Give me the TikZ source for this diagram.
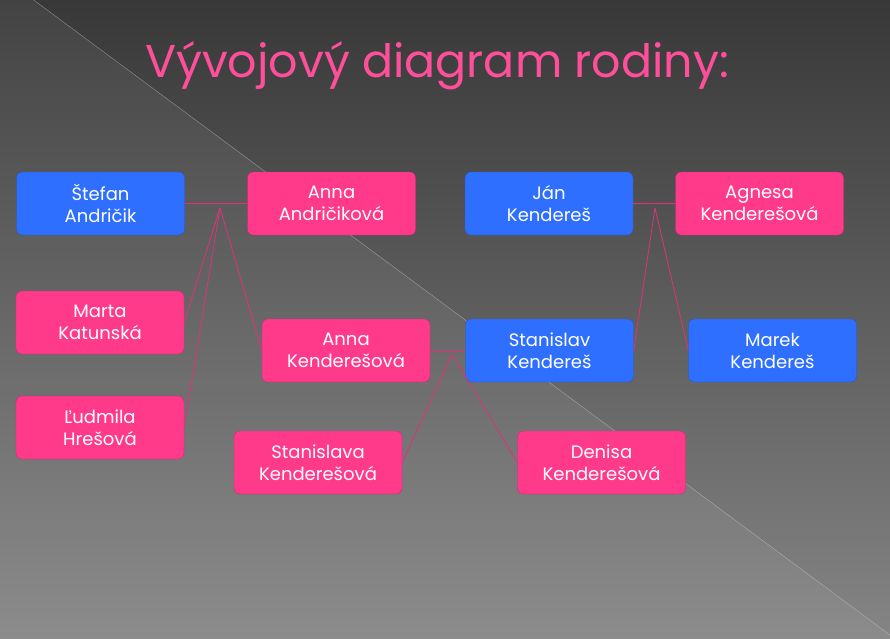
\documentclass[tikz,border=0pt]{standalone}
\usepackage{fontspec}
\setmainfont{Poppins}
\definecolor{boxblue}{HTML}{2F6FFF}
\definecolor{boxpink}{HTML}{FF3A8A}
\definecolor{linkpink}{HTML}{E0327A}
\definecolor{titlepink}{HTML}{FF4F9A}
\tikzset{
  person/.style={rounded corners=6pt, draw=#1!80!black, fill=#1, text=white,
    minimum width=168pt, minimum height=63pt, align=center, font=\fontsize{18}{22}\selectfont, inner sep=0pt},
  link/.style={draw=linkpink, line width=0.8pt}
}
\begin{document}
\begin{tikzpicture}[x=1pt,y=-1pt]
  \useasboundingbox (0,0) rectangle (890,638);
  % background
  \begin{scope}
    \clip (0,0) rectangle (890,638);
    \shade[top color=black!78, bottom color=black!48] (0,0) rectangle (890,638);
    \fill[white, opacity=0.06] (0,-25) -- (890,635) -- (890,680) -- (0,680) -- cycle;
    \draw[white!70!gray, opacity=0.5, line width=0.4pt] (0,-25) -- (890,635);
  \end{scope}
  \node[text=titlepink, font=\fontsize{46}{52}\selectfont] (title) at (437,66) {Vývojový diagram rodiny:};

  \node[person=boxblue] (stefan) at (100.5,203.5) {Štefan\\Andričik};
  \node[person=boxpink] (annaA) at (331.5,203.5) {Anna\\Andričiková};
  \node[person=boxblue] (jan) at (549,203.5) {Ján\\Kendereš};
  \node[person=boxpink] (agnesa) at (759.5,203.5) {Agnesa\\Kenderešová};
  \node[person=boxpink] (marta) at (100,322.5) {Marta\\Katunská};
  \node[person=boxpink] (annaK) at (346,350.5) {Anna\\Kenderešová};
  \node[person=boxblue] (stanislav) at (549.5,350.5) {Stanislav\\Kendereš};
  \node[person=boxblue] (marek) at (772.5,350.5) {Marek\\Kendereš};
  \node[person=boxpink] (ludmila) at (100,427.5) {Ľudmila\\Hrešová};
  \node[person=boxpink] (stanislava) at (318,462.5) {Stanislava\\Kenderešová};
  \node[person=boxpink] (denisa) at (601.5,462.5) {Denisa\\Kenderešová};

  % couples
  \draw[link] (stefan.east) -- (annaA.west);
  \draw[link] (jan.east) -- (agnesa.west);
  \draw[link] (annaK.east) -- (stanislav.west);
  \coordinate (c1) at (220,208);
  \coordinate (c2) at (655,208);
  \coordinate (c3) at (452,354);

  % children
  \draw[link] (c1) -- (marta.east);
  \draw[link] (c1) -- (ludmila.east);
  \draw[link] (c1) -- (annaK.west);
  \draw[link] (c2) -- (stanislav.east);
  \draw[link] (c2) -- (marek.west);
  \draw[link] (c3) -- (stanislava.east);
  \draw[link] (c3) -- (denisa.west);
\end{tikzpicture}
\end{document}
